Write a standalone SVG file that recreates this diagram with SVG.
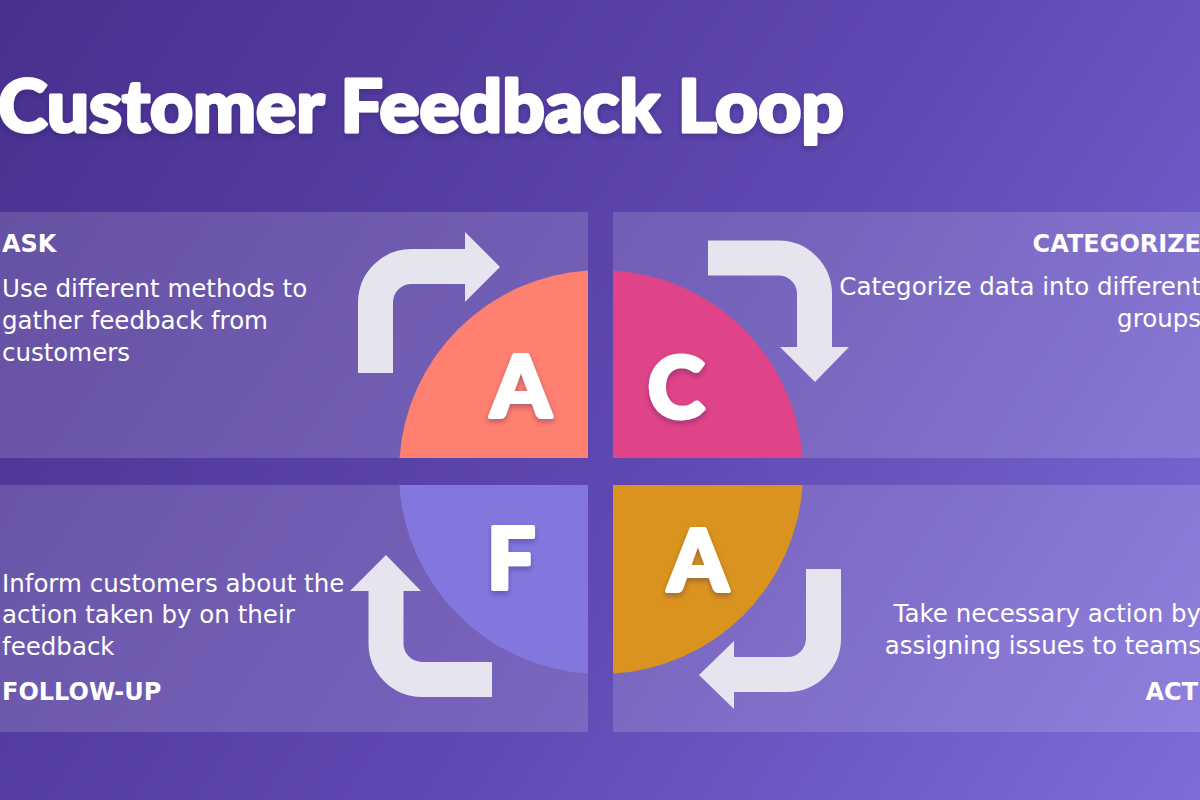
<svg xmlns="http://www.w3.org/2000/svg" width="1200" height="800" viewBox="0 0 1200 800">
  <defs>
    <linearGradient id="bg" x1="0" y1="0" x2="1200" y2="800" gradientUnits="userSpaceOnUse">
      <stop offset="0" stop-color="#48308e"/>
      <stop offset="0.55" stop-color="#5f48b0"/>
      <stop offset="1" stop-color="#7d6cda"/>
    </linearGradient>
    <filter id="shadow" x="-10%" y="-10%" width="120%" height="130%">
      <feDropShadow dx="0" dy="3" stdDeviation="2.5" flood-color="#2a1a60" flood-opacity="0.35"/>
    </filter>
    <style>
      .panel { fill: #ffffff; fill-opacity: 0.15; }
      .arrow { fill: none; stroke: #e6e4ef; stroke-width: 35; stroke-linecap: butt; stroke-linejoin: round; }
      .head { fill: #e6e4ef; }
      .letter { font-family: Lato, "Open Sans", sans-serif; font-weight: 900; font-size: 86px; fill: #ffffff; stroke: #ffffff; stroke-width: 4; stroke-linejoin: round; text-anchor: middle; }
      .label { font-family: "DejaVu Sans", "Open Sans", sans-serif; font-weight: 700; font-size: 24px; fill: #ffffff; }
      .body { font-family: "DejaVu Sans", "Open Sans", sans-serif; font-size: 24.5px; fill: #ffffff; }
      .title { font-family: Lato, "Open Sans", sans-serif; font-weight: 900; font-size: 72px; fill: #ffffff; stroke: #ffffff; stroke-width: 3; stroke-linejoin: round; }
    </style>
  </defs>

  <rect x="0" y="0" width="1200" height="800" fill="url(#bg)"/>

  <text class="title" x="-2" y="132" textLength="846" lengthAdjust="spacingAndGlyphs" filter="url(#shadow)">Customer Feedback Loop</text>

  <g id="panels">
    <rect class="panel" x="0" y="212" width="588" height="246"/>
    <rect class="panel" x="613" y="212" width="587" height="246"/>
    <rect class="panel" x="0" y="485" width="588" height="247"/>
    <rect class="panel" x="613" y="485" width="587" height="247"/>
  </g>

  <g id="node-ask">
    <path d="M588 458 H399.5 A202 202 0 0 1 588 270.4 Z" fill="#fe8070"/>
    <text class="letter" x="521" y="417" filter="url(#shadow)">A</text>
    <text class="label" x="2" y="252">ASK</text>
    <text class="body" x="2" y="297">Use different methods to</text>
    <text class="body" x="2" y="329">gather feedback from</text>
    <text class="body" x="2" y="361">customers</text>
  </g>

  <g id="node-categorize">
    <path d="M613 458 V270.4 A202 202 0 0 1 802.5 458 Z" fill="#de4487"/>
    <text class="letter" x="676" y="418" filter="url(#shadow)">C</text>
    <text class="label" x="1201" y="252" text-anchor="end">CATEGORIZE</text>
    <text class="body" x="1201" y="295" text-anchor="end">Categorize data into different</text>
    <text class="body" x="1201" y="327" text-anchor="end">groups</text>
  </g>

  <g id="node-act">
    <path d="M613 485 H802.6 A202 202 0 0 1 613 673.6 Z" fill="#d9931e"/>
    <text class="letter" x="698" y="591" filter="url(#shadow)">A</text>
    <text class="body" x="1201" y="622" text-anchor="end">Take necessary action by</text>
    <text class="body" x="1201" y="654" text-anchor="end">assigning issues to teams</text>
    <text class="label" x="1198" y="700" text-anchor="end">ACT</text>
  </g>

  <g id="node-follow-up">
    <path d="M588 485 V673.6 A202 202 0 0 1 399.4 485 Z" fill="#8377de"/>
    <text class="letter" x="511" y="589" filter="url(#shadow)">F</text>
    <text class="body" x="2" y="592">Inform customers about the</text>
    <text class="body" x="2" y="623">action taken by on their</text>
    <text class="body" x="2" y="655">feedback</text>
    <text class="label" x="2" y="700">FOLLOW-UP</text>
  </g>

  <g id="connectors">
    <path class="arrow" d="M375.5 373 V302 A36 36 0 0 1 411.5 266.5 H466"/>
    <polygon class="head" points="465,232 500,267 465,302"/>

    <path class="arrow" d="M708 258 H778 A36 36 0 0 1 814.5 294 V348"/>
    <polygon class="head" points="780,347 849,347 815,382"/>

    <path class="arrow" d="M823.5 569 V638 A36 36 0 0 1 787.5 674.5 H733"/>
    <polygon class="head" points="734,641 734,709 699,675"/>

    <path class="arrow" d="M492 679.5 H422 A36 36 0 0 1 386 643.5 V590"/>
    <polygon class="head" points="350,591 421,591 386,555"/>
  </g>
</svg>
